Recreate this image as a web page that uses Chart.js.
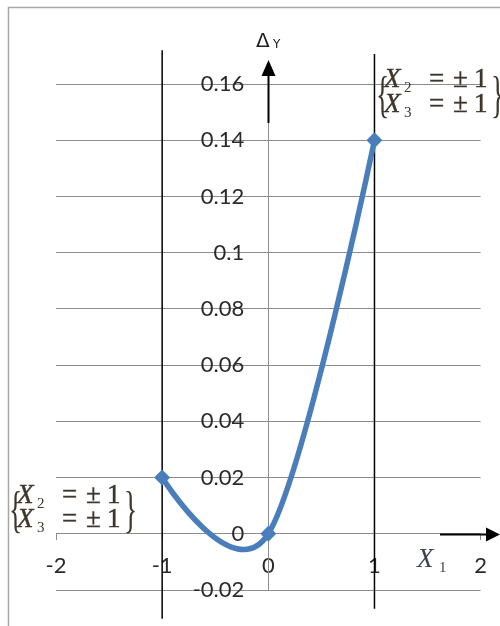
<!DOCTYPE html>
<html><head><meta charset="utf-8">
<script src="https://cdn.jsdelivr.net/npm/chart.js@4/dist/chart.umd.min.js"></script>
<style>html,body{margin:0;padding:0;background:#fff;overflow:hidden;} #wrap{width:500px;height:626px;}</style>
</head><body><div id="wrap"><canvas id="c" width="500" height="626"></canvas></div>
<script>
// ---- data ----
const xValues = [-1, 0, 1];
const deltaY = [0.02, 0, 0.14];
const xTickLabels = ['-2', '-1', '0', '1', '2'];
const yTickLabels = ['-0.02', '0', '0.02', '0.04', '0.06', '0.08', '0.1', '0.12', '0.14', '0.16'];
const boundaryX = [-1, 1];
const boundaryTop = [0.172, 0.1707];
const boundaryBottom = [-0.0302, -0.0267];
const annotSubs = ['2', '3'];
const annotText = ['=', '±', '1'];

const GRID = '#8c8c8c';
const BLUE = '#4a7ebb';
const MATH = '#3d362b';
const Y_LABEL_GAP = 24;

const excelSmooth = {
  id: 'excelSmooth',
  beforeDatasetDraw(chart, args) {
    if (args.index !== 0) return;
    const meta = args.meta;
    meta.dataset.updateControlPoints(chart.chartArea, 'x');
    const pts = meta.data;
    for (let i = 0; i < pts.length; i++) {
      const p = pts[i], prev = pts[i - 1] || p, next = pts[i + 1] || p;
      const k = (i === 0 || i === pts.length - 1) ? 0 : 1 / 6;
      const tx = next.x - prev.x, ty = next.y - prev.y;
      p.cp1x = p.x - k * tx; p.cp1y = p.y - k * ty;
      p.cp2x = p.x + k * tx; p.cp2y = p.y + k * ty;
    }
  }
};

function drawAnnot(ctx, ax, b1, b2) {
  ctx.save();
  ctx.fillStyle = MATH;
  ctx.strokeStyle = MATH;
  ctx.lineWidth = 0.4;
  ctx.textAlign = 'left';
  ctx.textBaseline = 'alphabetic';
  ctx.font = '50px "Liberation Serif"';
  ctx.save(); ctx.translate(ax - 1, b2 - 1); ctx.scale(0.55, 1); ctx.fillText('{', 0, 0); ctx.restore();
  ctx.save(); ctx.translate(ax + 114, b2 - 1); ctx.scale(0.55, 1); ctx.fillText('}', 0, 0); ctx.restore();
  [b1, b2].forEach((b, i) => {
    ctx.font = 'italic 27px "Liberation Serif"';
    ctx.fillText('X', ax + 7, b); ctx.strokeText('X', ax + 7, b);
    ctx.font = '15px "Liberation Serif"';
    ctx.fillText(annotSubs[i], ax + 27, b + 5);
    ctx.font = '27px "Liberation Serif"';
    ctx.fillText(annotText[0], ax + 52, b); ctx.strokeText(annotText[0], ax + 52, b);
    ctx.fillText(annotText[1], ax + 76, b); ctx.strokeText(annotText[1], ax + 76, b);
    ctx.fillText(annotText[2], ax + 97, b); ctx.strokeText(annotText[2], ax + 97, b);
  });
  ctx.restore();
}

const decor = {
  id: 'decor',
  beforeDraw(chart) {
    const ctx = chart.ctx;
    ctx.save();
    ctx.fillStyle = '#fff';
    ctx.fillRect(0, 0, chart.width, chart.height);
    ctx.strokeStyle = '#a6a6a6';
    ctx.lineWidth = 1.5;
    ctx.beginPath();
    ctx.moveTo(8.5, chart.height);
    ctx.lineTo(8.5, 7.5);
    ctx.lineTo(chart.width, 7.5);
    ctx.stroke();
    ctx.restore();
    const ys = chart.scales.y;
    const items = ys.getLabelItems(chart.chartArea);
    if (!ys._shifted) {
      items.forEach(it => { it.options.translation[0] -= Y_LABEL_GAP; });
      ys._shifted = true;
    }
  },
  afterDraw(chart) {
    const ctx = chart.ctx;
    const xs = chart.scales.x, ys = chart.scales.y;
    const x0 = Math.round(xs.getPixelForValue(0)) + 0.5;
    const y0 = Math.round(ys.getPixelForValue(0)) + 0.5;
    ctx.save();
    ctx.strokeStyle = '#000';
    ctx.fillStyle = '#000';
    ctx.lineWidth = 2;
    ctx.beginPath(); ctx.moveTo(x0, 123); ctx.lineTo(x0, 72); ctx.stroke();
    ctx.beginPath(); ctx.moveTo(x0 - 7, 76); ctx.lineTo(x0 + 7, 76); ctx.lineTo(x0, 60); ctx.closePath(); ctx.fill();
    ctx.beginPath(); ctx.moveTo(440, y0); ctx.lineTo(490, y0); ctx.stroke();
    ctx.beginPath(); ctx.moveTo(486, y0 - 7); ctx.lineTo(486, y0 + 7); ctx.lineTo(500, y0); ctx.closePath(); ctx.fill();
    ctx.fillStyle = '#222';
    ctx.textAlign = 'left';
    ctx.textBaseline = 'alphabetic';
    ctx.font = '20px "DejaVu Sans"';
    ctx.fillText('Δ', 256, 47);
    ctx.font = '12px "DejaVu Sans"';
    ctx.fillText('Y', 273, 48);
    ctx.fillStyle = '#3c4350';
    ctx.font = 'italic 27px "Liberation Serif"';
    ctx.fillText('X', 417, 567);
    ctx.font = '15px "Liberation Serif"';
    ctx.fillText('1', 439, 572);
    ctx.restore();
    drawAnnot(ctx, 10, 503, 527);
    drawAnnot(ctx, 377, 87, 112);
  }
};

const datasets = [{
  data: xValues.map((x, i) => ({ x: x, y: deltaY[i] })),
  borderColor: BLUE,
  backgroundColor: BLUE,
  borderWidth: 5.5,
  tension: 0.4,
  pointStyle: 'rectRot',
  pointRadius: 8,
  pointBorderWidth: 0,
  pointBackgroundColor: BLUE,
  clip: false
}];
boundaryX.forEach((bx, i) => {
  datasets.push({
    data: [{ x: bx, y: boundaryTop[i] }, { x: bx, y: boundaryBottom[i] }],
    borderColor: '#000',
    borderWidth: 1.5,
    pointRadius: 0,
    tension: 0,
    clip: false
  });
});

new Chart(document.getElementById('c'), {
  type: 'line',
  data: { datasets: datasets },
  options: {
    responsive: false,
    animation: false,
    events: [],
    layout: { padding: { left: 56, right: 19, top: 84, bottom: 36 } },
    plugins: { legend: { display: false }, tooltip: { enabled: false } },
    scales: {
      x: {
        type: 'linear', min: -2, max: 2,
        position: { y: 0 },
        afterFit(s) { s.height = 0; },
        ticks: {
          stepSize: 1, autoSkip: false, maxRotation: 0,
          callback: (v, i) => xTickLabels[i],
          font: { family: 'Lato', size: 22 }, color: '#2a2a2a', padding: 13
        },
        grid: { drawOnChartArea: false, drawTicks: true, tickLength: 6, color: GRID },
        border: { display: true, color: GRID, width: 1 }
      },
      y: {
        type: 'linear', min: -0.02, max: 0.16,
        position: { x: 0 },
        afterFit(s) { s.width = 0; },
        ticks: {
          stepSize: 0.02, autoSkip: false,
          callback: (v, i) => yTickLabels[i],
          font: { family: 'Lato', size: 22 }, color: '#2a2a2a'
        },
        grid: { drawTicks: false, color: GRID },
        border: { display: true, color: GRID, width: 1 }
      }
    }
  },
  plugins: [excelSmooth, decor]
});
</script></body></html>
